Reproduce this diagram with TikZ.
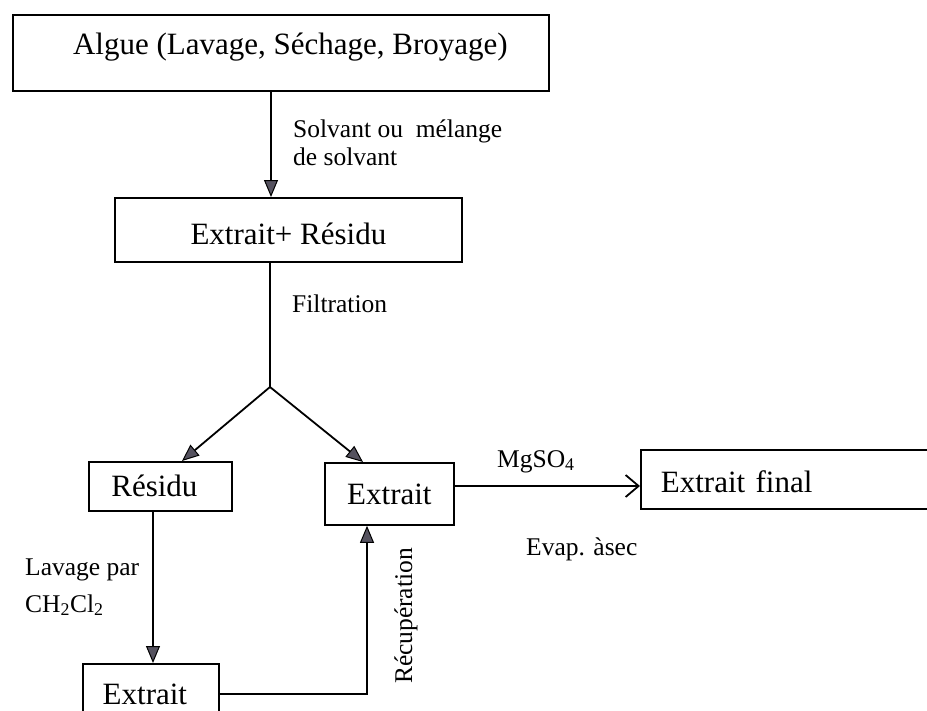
\documentclass[tikz,border=0pt]{standalone}
\usepackage{fontspec}
\setmainfont{Liberation Serif}
\usetikzlibrary{arrows.meta,calc}
\definecolor{arrowgray}{RGB}{85,82,95}
\begin{document}
\begin{tikzpicture}[x=1pt,y=-1pt,
  boxst/.style={draw=black,line width=1.8pt,rectangle,anchor=north west,inner sep=0pt,
    font=\fontsize{31}{37}\selectfont,text height=20.5pt,text depth=0pt},
  lbl/.style={anchor=base west,inner sep=0pt,font=\fontsize{25.5}{30}\selectfont},
  conn/.style={line width=1.8pt,draw=black},
  arr/.style={conn,-{Triangle[length=17pt,width=14pt,fill=arrowgray,line width=1pt]}},
  openarr/.style={conn,-{Straight Barb[length=13pt,width=22pt,line width=1.8pt]}}]
\clip (0,0) rectangle (927,710);
\fill[white] (0,0) rectangle (927,710);

% boxes
\node[boxst,minimum width=536pt,minimum height=76pt,text depth=18pt] (algue) at (12,14)
  {\hspace*{19pt}Algue (Lavage, Séchage, Broyage)};
\node[boxst,minimum width=347pt,minimum height=64pt,text height=28.5pt] (exres) at (114,197)
  {Extrait+ Résidu};
\node[boxst,minimum width=143pt,minimum height=49pt] (residu) at (88,461) {\hspace*{-12pt}Résidu};
\node[boxst,minimum width=129pt,minimum height=62pt] (extm) at (324,462) {Extrait};
\node[boxst,minimum width=330pt,minimum height=59pt,text height=25.5pt,
  inner xsep=20pt,text width=290pt,align=left] (extf) at (640,449) {Extrait final};
\node[boxst,minimum width=136pt,minimum height=60pt] (extb) at (82,663) {\hspace*{-12pt}Extrait};

% helper coordinates
\coordinate (colA) at (271,0);
\coordinate (junc) at (270,387);
\coordinate (tipL) at (182,0);
\coordinate (tipR) at (363,0);
\coordinate (colR) at (153,0);
\coordinate (colU) at (367,0);
\coordinate (rowM) at (0,486);

% connectors
\draw[arr] (algue.south -| colA) -- (exres.north -| colA);
\draw[conn] (exres.south -| junc) -- (junc);
\draw[arr] (junc) -- (residu.north -| tipL);
\draw[arr] (junc) -- (extm.north -| tipR);
\draw[arr] (residu.south -| colR) -- (extb.north -| colR);
\draw[arr] (extb.east) -| (extm.south -| colU);
\draw[openarr] (extm.east |- rowM) -- (extf.west |- rowM);

% labels
\node[lbl] (l1) at (293,137) {Solvant ou~ mélange};
\node[lbl] (l2) at (293,165) {de solvant};
\node[lbl] (l3) at (292,312) {Filtration};
\node[lbl] (l4) at (497,467) {MgSO\textsubscript{4}};
\node[lbl] (l5) at (526,555) {Evap. àsec};
\node[lbl] (l6) at (25,575) {Lavage par};
\node[lbl] (l7) at (25,612) {CH\textsubscript{2}Cl\textsubscript{2}};
\node[lbl,rotate=90,anchor=base] (l8) at (412,616) {Récupération};
\end{tikzpicture}
\end{document}
